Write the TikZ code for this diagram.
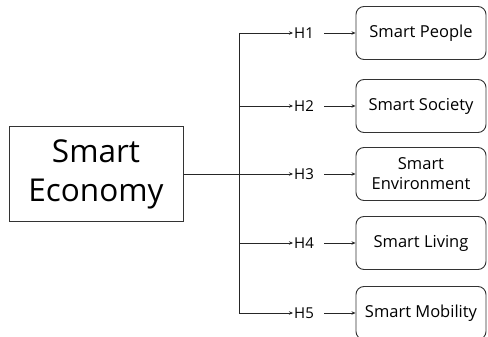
\documentclass[tikz,border=0pt]{standalone}
\usepackage{fontspec}
\setmainfont{Open Sans}
\usetikzlibrary{arrows.meta}
\begin{document}
\begin{tikzpicture}[x=1pt,y=-1pt,
  mainbox/.style={draw=black!80, line width=1pt, minimum width=174pt, minimum height=94pt, inner sep=0pt, align=center, font=\fontsize{31.5}{39}\selectfont},
  areabox/.style={draw=black!80, line width=0.9pt, rounded corners=8pt, minimum width=130pt, minimum height=53pt, inner sep=0pt, align=center, font=\fontsize{16.5}{20}\selectfont},
  hyp/.style={inner sep=1pt, font=\fontsize{15}{17}\selectfont},
  link/.style={draw=black!85, line width=0.9pt},
  arr/.style={link, -{Stealth[length=4pt,width=3.5pt]}}]
\useasboundingbox (0,0) rectangle (488,337);
% source factor
\node[mainbox] (eco) at (96,174) {Smart\\Economy};
% vertical distribution line
\coordinate (bus1) at (239,33);
\coordinate (bus2) at (239,106);
\coordinate (bus3) at (239,174);
\coordinate (bus4) at (239,243);
\coordinate (bus5) at (239,313);
\draw[link] (eco.east) -- (bus3);
\draw[link] (bus1) -- (bus5);
% hypotheses and target dimensions
\foreach \i/\y/\t in {1/33/Smart People, 2/106/Smart Society, 3/174/{Smart\\Environment}, 4/243/Smart Living, 5/313/Smart Mobility}{
  \node[hyp, anchor=west] (h\i) at (293,\y) {H\i};
  \node[areabox] (d\i) at (421,\y) {\t};
  \draw[arr] (bus\i) -- (h\i.west);
  \draw[arr] (h\i.east) ++(9,0) coordinate (s\i) (s\i) -- (d\i.west);
}
\end{tikzpicture}
\end{document}
